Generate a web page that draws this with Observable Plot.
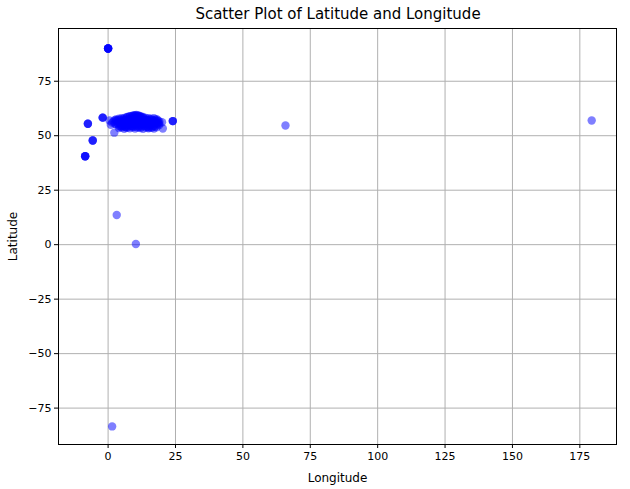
<!DOCTYPE html>
<html>
<head>
<meta charset="utf-8">
<script src="https://cdn.jsdelivr.net/npm/d3@7"></script>
<script src="https://cdn.jsdelivr.net/npm/@observablehq/plot@0.6"></script>
<style>
  body { margin: 0; background: #fff; font-family: "DejaVu Sans", sans-serif; }
  #title { position: relative; height: 20px; width: 630px; }
  #title span { position: absolute; left: 338px; top: 5px; transform: translateX(-50%); font-size: 15px; color: #000; white-space: nowrap; }
</style>
</head>
<body>
<div id="title"><span>Scatter Plot of Latitude and Longitude</span></div>
<div id="chart"></div>
<script>
// Longitude / latitude values
const longitude = [
  0, 0, 0, 0, 0, 0,
  -8.5, -8.5, -8.5, -8.5,
  -7.5, -7.5, -7.5,
  -5.7, -5.7, -5.7,
  -2, -2, -2,
  2.3,
  3.2,
  10.3,
  1.5,
  24, 24, 24,
  65.8,
  179.4,
  20.3,
  3, 4, 5, 6, 7, 8, 9, 10, 11, 12, 13, 14, 15, 16, 17, 18,
  2, 3, 4, 5, 6, 7, 8, 9, 10, 11, 12, 13, 14, 15, 16, 17, 18, 19,
  1, 3, 4, 5, 6, 7, 8, 9, 10, 11, 12, 13, 14, 15, 16, 17, 18, 19,
  4, 5, 6, 7, 8, 9, 10, 11, 12, 13, 14, 15, 16, 17, 18,
  0.5, 2.5, 9.5, 10.5, 11.5, 8.5, 12.5, 6.5, 14.5, 16.5,
  3.5, 4.5, 5.5, 6.5, 7.5, 8.5, 9.5, 10.5, 11.5, 12.5, 13.5, 14.5, 15.5, 16.5, 17.5,
  3.5, 4.5, 5.5, 6.5, 7.5, 8.5, 9.5, 10.5, 11.5, 12.5, 13.5, 14.5, 15.5, 16.5, 17.5, 18.5,
  4.5, 5.5, 6.5, 7.5, 8.5, 9.5, 10.5, 11.5, 12.5, 13.5, 14.5, 15.5, 16.5, 17.5,
  8, 9, 10, 11, 12, 9.5, 10.5, 11.5, 7, 13,
  1.5, 2.5, 19, 18.5, 20, 17, 5, 15
];
const latitude = [
  90, 90, 90, 90, 90, 90,
  40.6, 40.6, 40.6, 40.6,
  55.5, 55.5, 55.5,
  47.8, 47.8, 47.8,
  58.3, 58.3, 58.3,
  51.4,
  13.6,
  0.3,
  -83.4,
  56.7, 56.7, 56.7,
  54.7,
  57,
  53.3,
  57.5, 57.8, 58, 58.2, 58.5, 58.8, 59.2, 59.4, 59.3, 59, 58.6, 58.2, 58, 57.8, 58, 57.6,
  56.5, 56.8, 56, 56.5, 57, 56.2, 56.5, 57, 56.8, 56.2, 56.5, 57, 56.3, 56.8, 56.2, 56.5, 56.8, 56.5,
  55, 55.2, 54.6, 55, 55.5, 54.8, 55.2, 54.5, 55, 55.4, 54.7, 55.1, 55.5, 54.8, 55.2, 54.6, 55.3, 54.9,
  53.5, 53.8, 53.2, 53.6, 53.4, 53.9, 53.3, 53.7, 53.5, 53.2, 53.8, 53.4, 53.6, 53.3, 53.9,
  57, 57.2, 55.8, 56, 57.6, 57.9, 58.4, 54, 57.4, 55.6,
  57.1, 57.4, 57.6, 57.3, 57.7, 57.5, 57.9, 58.1, 57.8, 57.6, 57.4, 57.2, 57.5, 57.1, 57.3,
  55.8, 55.9, 56.1, 55.7, 55.9, 56, 55.8, 56.1, 55.9, 55.7, 56, 55.8, 56.1, 55.9, 55.7, 55.8,
  54.1, 54.3, 54, 54.2, 54.4, 54.1, 54.3, 54, 54.2, 54.4, 54.1, 54.3, 54, 54.2,
  59, 58.9, 59.1, 59, 58.7, 59.3, 59.5, 59.2, 58.6, 58.3,
  56, 55.5, 55.6, 57, 56.2, 56.9, 54.5, 53.7
];
const xTicks = [0, 25, 50, 75, 100, 125, 150, 175];
const yTicks = [-75, -50, -25, 0, 25, 50, 75];

const points = longitude.map((lon, i) => ({lon, lat: latitude[i]}));

const chart = Plot.plot({
  width: 630,
  height: 469,
  marginLeft: 58,
  marginRight: 14,
  marginTop: 8,
  marginBottom: 45,
  style: {fontFamily: "DejaVu Sans, sans-serif", fontSize: "11px", color: "#000", background: "#fff"},
  x: {domain: [-18.4, 188.6], ticks: xTicks},
  y: {domain: [-91.7, 99.2], ticks: yTicks},
  marks: [
    Plot.gridX(xTicks, {stroke: "#b0b0b0", strokeOpacity: 1, strokeWidth: 1}),
    Plot.gridY(yTicks, {stroke: "#b0b0b0", strokeOpacity: 1, strokeWidth: 1}),
    Plot.axisX(xTicks, {tickSize: 4, tickPadding: 4, fontSize: 11, label: null}),
    Plot.axisY(yTicks, {tickSize: 4, tickPadding: 3, fontSize: 11, label: null}),
    Plot.axisX(xTicks, {tickSize: 0, tickFormat: () => "", fontSize: 12, label: "Longitude", labelAnchor: "center", labelArrow: "none", labelOffset: 37}),
    Plot.axisY(yTicks, {tickSize: 0, tickFormat: () => "", fontSize: 12, label: "Latitude", labelAnchor: "center", labelArrow: "none", labelOffset: 50}),
    Plot.dot(points, {x: "lon", y: "lat", r: 4.2, fill: "#0000ff", fillOpacity: 0.5, stroke: "none"}),
    Plot.frame({stroke: "#000", strokeWidth: 1})
  ]
});
document.getElementById("chart").appendChild(chart);
</script>
</body>
</html>
